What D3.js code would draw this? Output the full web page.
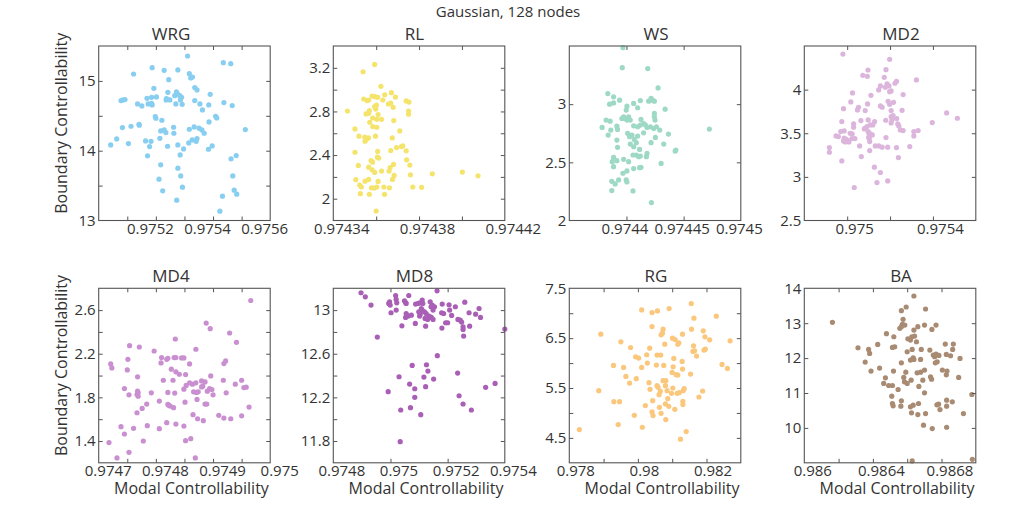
<!DOCTYPE html>
<html>
<head>
<meta charset="utf-8">
<script src="https://cdn.jsdelivr.net/npm/d3@7"></script>
<style>
  body { margin: 0; background: #fff; }
  svg text { font-family: "Open Sans", "Noto Sans", sans-serif; fill: #333; }
</style>
</head>
<body>
<svg id="chart" width="1015" height="508"></svg>
<script>
// scatter of boundary vs modal controllability, gaussian weights, 128 nodes

const panelNames = ["WRG", "RL", "WS", "MD2", "MD4", "MD8", "RG", "BA"];
const panelColors = ["#87cef0", "#f5e46c", "#9dd9c5", "#dcb5dc", "#c98fd0", "#a95fb5", "#fac77c", "#a88b72"];

// axis limits
const xDomains = [[0.975, 0.9756], [0.97434, 0.97442], [0.97435, 0.9745], [0.9748, 0.9756],
                  [0.9747, 0.975], [0.9748, 0.9754], [0.978, 0.983], [0.986, 0.987]];
const yDomains = [[13, 15.5], [1.8, 3.4], [2, 3.5], [2.5, 4.5],
                  [1.2, 2.8], [11.6, 13.2], [4, 7.5], [9, 14]];

// tick marks and tick labels
const xTickMarks = [[0.9751, 0.9752, 0.9753, 0.9754, 0.9755], [0.97436, 0.97438, 0.9744], [0.9744, 0.97445], [0.975, 0.9752, 0.9754],
                    [0.97475, 0.9748, 0.97485, 0.9749, 0.97495], [0.975, 0.9752], [0.979, 0.98, 0.981, 0.982], [0.9862, 0.9864, 0.9866, 0.9868]];
const xTickLabels = [[0.9752, 0.9754, 0.9756], [0.97434, 0.97438, 0.97442], [0.9744, 0.97445, 0.9745], [0.975, 0.9754],
                     [0.9747, 0.9748, 0.9749, 0.975], [0.9748, 0.975, 0.9752, 0.9754], [0.978, 0.98, 0.982], [0.986, 0.9864, 0.9868]];
const yTickMarks = [[13.5, 14, 14.5, 15], [2, 2.2, 2.4, 2.6, 2.8, 3, 3.2], [2.5, 3], [3, 3.5, 4],
                    [1.4, 1.6, 1.8, 2, 2.2, 2.4, 2.6], [11.8, 12, 12.2, 12.4, 12.6, 12.8, 13], [4.5, 5, 5.5, 6, 6.5, 7], [10, 11, 12, 13]];
const yTickLabels = [[13, 14, 15], [2, 2.4, 2.8, 3.2], [2, 2.5, 3], [2.5, 3, 3.5, 4],
                     [1.4, 1.8, 2.2, 2.6], [11.8, 12.2, 12.6, 13], [4.5, 5.5, 6.5, 7.5], [10, 11, 12, 13, 14]];

// data
const wrgX = [0.975311,0.975436,0.975462,0.975122,0.975187,0.975229,0.975277,0.975317,0.975322,0.975328,
  0.975245,0.975193,0.975336,0.975344,0.975242,0.975272,0.975276,0.97539,0.975078,0.975085,
  0.975092,0.975136,0.975151,0.975169,0.975185,0.975202,0.975185,0.975187,0.975173,0.975237,
  0.975236,0.975249,0.975266,0.975284,0.97529,0.975286,0.975292,0.97527,0.975336,0.975354,
  0.975363,0.975385,0.975438,0.975467,0.975198,0.9752,0.975409,0.975413,0.975386,0.975083,
  0.975113,0.975141,0.975142,0.975221,0.975262,0.975263,0.975229,0.975217,0.975235,0.975317,
  0.975334,0.975351,0.975361,0.975369,0.975513,0.975063,0.975042,0.975104,0.975164,0.975178,
  0.975183,0.975214,0.975241,0.975277,0.975297,0.975315,0.975327,0.975341,0.975344,0.975384,
  0.975397,0.975285,0.975171,0.975463,0.975481,0.975217,0.975277,0.975287,0.975293,0.975211,
  0.975224,0.975273,0.975469,0.975474,0.975483,0.975433,0.975424];
const wrgY = [15.357,15.261,15.247,15.099,15.19,15.152,15.157,15.104,15.042,15.056,
  15.018,14.894,14.904,14.87,14.837,14.842,14.813,14.808,14.718,14.727,
  14.732,14.67,14.641,14.751,14.765,14.77,14.679,14.656,14.67,14.746,
  14.727,14.727,14.789,14.789,14.765,14.727,14.665,14.67,14.718,14.67,
  14.584,14.656,14.689,14.646,14.489,14.465,14.493,14.469,14.412,14.331,
  14.35,14.379,14.365,14.436,14.336,14.25,14.298,14.283,14.26,14.307,
  14.341,14.322,14.298,14.25,14.302,14.169,14.083,14.102,14.14,14.059,
  14.135,14.178,14.064,14.083,14.026,14.112,14.155,14.135,14.174,14.021,
  14.069,13.94,13.926,13.883,13.93,13.797,13.749,13.639,13.477,13.592,
  13.425,13.291,13.639,13.434,13.377,13.348,13.134];

const rlX = [0.9743593,0.9743539,0.9743622,0.9743542,0.9743558,0.9743565,0.9743581,0.9743595,0.9743607,0.9743631,
  0.974364,0.9743671,0.9743668,0.974369,0.974374,0.9743753,0.9743751,0.9743751,0.9743466,0.9743553,
  0.9743565,0.9743593,0.9743601,0.9743598,0.9743609,0.9743603,0.9743625,0.9743657,0.9743679,0.9743682,
  0.9743501,0.974357,0.9743584,0.9743603,0.974352,0.9743547,0.9743553,0.9743564,0.9743548,0.9743597,
  0.974371,0.9743675,0.9743501,0.9743517,0.9743565,0.9743576,0.9743581,0.9743593,0.9743607,0.9743606,
  0.9743612,0.9743668,0.9743695,0.9743718,0.9743724,0.974374,0.9743742,0.9743757,0.9743625,0.974366,
  0.9743681,0.9743684,0.9743676,0.9743665,0.9743505,0.9743523,0.9743531,0.9743548,0.9743565,0.9743578,
  0.9743568,0.9743592,0.9743603,0.9743609,0.9743636,0.9743639,0.9743662,0.9743771,0.9743812,0.9743526,
  0.9743862,0.9744002,0.9744075,0.97436,0.974376,0.9743583,0.9743584,0.9743568];
const rlY = [3.231,3.164,3.03,2.914,2.899,2.905,2.941,2.935,2.929,2.905,
  2.953,2.972,2.877,2.932,2.896,2.886,2.804,2.774,2.804,2.777,
  2.783,2.844,2.859,2.822,2.771,2.728,2.728,2.868,2.838,2.716,
  2.64,2.701,2.661,2.655,2.573,2.564,2.542,2.557,2.527,2.573,
  2.621,2.557,2.426,2.305,2.289,2.35,2.265,2.241,2.433,2.381,
  2.372,2.442,2.469,2.478,2.484,2.439,2.356,2.308,2.253,2.253,
  2.314,2.213,2.177,2.286,2.174,2.125,2.107,2.161,2.177,2.1,
  2.04,2.097,2.107,2.158,2.107,2.04,2.1,2.107,2.104,2.046,
  2.228,2.244,2.21,1.887,2.219,2.335,2.74,2.807];

const wsX = [0.9743969,0.9743963,0.9744186,0.9744276,0.9743837,0.9743887,0.974394,0.9743852,0.9743887,0.9744004,
  0.9744063,0.9744098,0.9744121,0.9744194,0.9744215,0.9744227,0.9744244,0.9744338,0.9744244,0.9743998,
  0.9743822,0.9743787,0.9743857,0.9743863,0.9743916,0.9743922,0.974396,0.9743975,0.9743989,0.9744004,
  0.9744019,0.9744033,0.9744063,0.9744127,0.9744121,0.9744098,0.974415,0.9744165,0.974418,0.9744209,
  0.9744238,0.9744262,0.9744291,0.9744244,0.974425,0.9744367,0.9744725,0.974384,0.9743916,0.974401,
  0.9744027,0.9744048,0.9744068,0.9744086,0.9744098,0.974415,0.9744033,0.9744063,0.9744115,0.9744057,
  0.9744086,0.9744107,0.9744121,0.974418,0.9744174,0.9744215,0.9744253,0.9744326,0.9744432,0.9744426,
  0.9743922,0.9743887,0.9743875,0.9743887,0.9743916,0.9743975,0.9744019,0.9744004,0.9744063,0.9744115,
  0.9744127,0.9744303,0.9743969,0.9743998,0.9744004,0.9743931,0.9743872,0.9743901,0.9743872,0.9744057,
  0.9744218];
const wsY = [3.486,3.314,3.306,3.14,3.091,3.063,3.034,3.0,3.011,2.983,
  3.006,2.969,3.031,3.026,3.049,3.034,3.026,2.957,2.92,2.949,
  2.863,2.8,2.854,2.777,2.811,2.783,2.877,2.891,2.877,2.863,
  2.891,2.863,2.814,2.869,2.82,2.806,2.834,2.823,2.8,2.806,
  2.791,2.806,2.777,2.891,2.863,2.743,2.786,2.734,2.691,2.749,
  2.72,2.734,2.697,2.669,2.726,2.754,2.657,2.634,2.611,2.563,
  2.563,2.549,2.554,2.577,2.549,2.669,2.714,2.657,2.606,2.597,
  2.629,2.543,2.506,2.463,2.514,2.526,2.506,2.426,2.446,2.454,
  2.457,2.491,2.406,2.349,2.331,2.349,2.337,2.314,2.257,2.254,
  2.154];

const md2X = [0.97498,0.975198,0.975097,0.975181,0.975073,0.975094,0.975173,0.97523,0.975223,0.975323,
  0.975186,0.975195,0.975155,0.975178,0.975147,0.975198,0.975205,0.975261,0.975025,0.975111,
  0.975017,0.975053,0.975048,0.975095,0.975084,0.975191,0.975216,0.975155,0.975163,0.975198,
  0.975205,0.974983,0.975256,0.975231,0.975214,0.975205,0.975209,0.975205,0.975236,0.975241,
  0.975248,0.975261,0.97518,0.975128,0.97512,0.975064,0.97503,0.97503,0.975023,0.975098,
  0.975084,0.975092,0.97508,0.975108,0.974975,0.97497,0.974986,0.974948,0.974959,0.974986,
  0.974995,0.975002,0.974983,0.974991,0.975008,0.975022,0.975036,0.975014,0.975098,0.975102,
  0.975108,0.975117,0.9751,0.975103,0.975105,0.975058,0.975105,0.975131,0.975147,0.975163,
  0.975181,0.975189,0.97523,0.975292,0.975311,0.975311,0.975331,0.975397,0.975464,0.975514,
  0.974917,0.974917,0.974975,0.975066,0.975239,0.975127,0.975155,0.975189,0.975139,0.975033];
const md2Y = [4.408,4.347,4.225,4.229,4.164,4.153,4.141,4.095,4.073,4.111,
  4.065,4.042,4.042,4.027,3.996,3.977,3.985,3.943,3.962,3.935,
  3.859,3.798,3.767,3.836,3.76,3.866,3.855,3.813,3.798,3.832,
  3.76,3.782,3.763,3.668,3.702,3.691,3.656,3.618,3.607,3.584,
  3.538,3.531,3.649,3.634,3.595,3.645,3.607,3.569,3.492,3.653,
  3.557,3.576,3.55,3.595,3.634,3.519,3.527,3.469,3.462,3.443,
  3.431,3.416,3.412,3.401,3.401,3.439,3.439,3.5,3.519,3.5,
  3.492,3.481,3.454,3.439,3.405,3.355,3.302,3.355,3.355,3.34,
  3.45,3.34,3.336,3.347,3.519,3.469,3.531,3.622,3.733,3.672,
  3.336,3.282,3.183,3.233,3.221,3.111,3.05,2.954,2.935,2.878];

const md4X = [0.974966,0.974888,0.974895,0.974929,0.974941,0.974834,0.974754,0.974771,0.97487,0.974797,
  0.97481,0.974819,0.974821,0.974832,0.974835,0.974845,0.974849,0.974751,0.974721,0.974723,
  0.974919,0.974922,0.974859,0.974809,0.974827,0.974835,0.974841,0.97475,0.974768,0.974813,
  0.97483,0.974852,0.974896,0.974918,0.974939,0.97495,0.974954,0.974958,0.97488,0.97487,
  0.974886,0.974859,0.974864,0.974853,0.974882,0.97488,0.974894,0.974898,0.97489,0.9749,
  0.974923,0.974745,0.974768,0.974769,0.974767,0.974769,0.974792,0.974821,0.974833,0.974849,
  0.974866,0.974871,0.974874,0.974753,0.974821,0.974823,0.974825,0.974831,0.974851,0.974872,
  0.974886,0.974889,0.974784,0.974776,0.974767,0.974806,0.974963,0.974865,0.974873,0.974883,
  0.97491,0.974919,0.974931,0.97495,0.974785,0.974739,0.974745,0.974761,0.974806,0.974819,
  0.974835,0.974849,0.974778,0.974852,0.974861,0.974718,0.974753,0.974732,0.974869];
const md4Y = [2.688,2.481,2.43,2.39,2.305,2.335,2.274,2.262,2.241,2.225,
  2.165,2.149,2.158,2.165,2.165,2.162,2.162,2.149,2.107,2.07,
  2.11,2.134,2.107,2.116,2.058,2.034,2.012,2.052,1.988,1.957,
  1.957,2.009,1.997,1.957,1.921,1.957,1.89,1.893,1.951,1.933,
  1.942,1.933,1.921,1.909,1.903,1.896,1.881,1.872,1.857,1.823,
  1.842,1.881,1.857,1.842,1.826,1.811,1.842,1.845,1.839,1.875,
  1.851,1.845,1.851,1.823,1.735,1.726,1.72,1.705,1.756,1.781,
  1.738,1.738,1.738,1.699,1.659,1.766,1.711,1.641,1.604,1.586,
  1.635,1.61,1.604,1.631,1.54,1.531,1.464,1.516,1.513,1.568,
  1.555,1.537,1.4,1.403,1.421,1.385,1.296,1.245,1.245];

const md8X = [0.974897,0.974912,0.974932,0.974954,0.974997,0.974994,0.974999,0.975002,0.975018,0.97502,
  0.975022,0.97502,0.97504,0.975049,0.975053,0.975064,0.975055,0.975055,0.975053,0.975062,
  0.975073,0.975088,0.975097,0.975104,0.975111,0.975113,0.975108,0.975099,0.975104,0.975102,
  0.975111,0.975119,0.975125,0.975121,0.975135,0.97513,0.975139,0.975146,0.975142,0.975149,
  0.975154,0.975143,0.975149,0.975163,0.975181,0.975179,0.975186,0.975193,0.9752,0.975205,
  0.975207,0.975214,0.975227,0.975236,0.975244,0.975249,0.975254,0.975254,0.975256,0.97526,
  0.975275,0.975277,0.975298,0.97531,0.975315,0.9754,0.975087,0.975123,0.97518,0.975164,
  0.97503,0.975076,0.975067,0.975085,0.975085,0.97507,0.975036,0.974992,0.975117,0.975126,
  0.975131,0.975123,0.975151,0.975235,0.97524,0.975254,0.975283,0.975333,0.975366,0.975106,
  0.975034];
const md8Y = [13.159,13.122,13.046,12.753,13.076,13.061,13.046,12.976,13.134,13.098,
  13.067,13.0,12.856,13.085,13.07,13.134,13.061,12.969,12.933,12.945,
  12.954,13.055,13.061,13.067,13.092,13.061,13.015,12.985,12.963,12.945,
  13.0,12.985,12.969,12.924,12.945,12.915,13.076,13.046,13.031,13.0,
  13.031,12.933,12.915,13.177,13.055,12.976,12.969,12.884,12.884,13.049,
  13.0,12.951,13.031,12.915,12.908,12.89,12.847,12.823,12.762,13.073,
  12.976,12.853,12.963,13.015,12.933,12.826,12.878,12.853,12.835,12.582,
  12.389,12.493,12.322,12.279,12.2,12.105,12.084,12.252,12.386,12.499,
  12.441,12.298,12.368,12.423,12.215,12.139,12.084,12.292,12.328,12.041,
  11.794];

const rgX = [0.981555,0.98011,0.980412,0.980569,0.98091,0.981633,0.982287,0.978918,0.980412,0.980715,
  0.980676,0.980734,0.981008,0.981086,0.981193,0.981301,0.981565,0.981906,0.981955,0.982092,
  0.982688,0.979504,0.979787,0.980344,0.980783,0.980559,0.980666,0.981164,0.981623,0.981604,
  0.981652,0.981711,0.981926,0.981965,0.979934,0.980022,0.980256,0.980109,0.980275,0.980539,
  0.980754,0.981047,0.981027,0.980998,0.981115,0.981164,0.981291,0.981301,0.981535,0.982453,
  0.98261,0.979289,0.979582,0.97965,0.979758,0.979953,0.980324,0.980354,0.980559,0.980588,
  0.980656,0.980734,0.980813,0.980803,0.980852,0.980871,0.980979,0.981018,0.981145,0.981203,
  0.98132,0.98135,0.978859,0.979299,0.979465,0.980217,0.980432,0.980627,0.980803,0.9809,
  0.981076,0.981311,0.981311,0.981779,0.981887,0.979895,0.980412,0.980441,0.980676,0.980813,
  0.980129,0.979426,0.978293,0.981408,0.981242,0.980617];
const rgY = [7.193,7.067,7.013,7.047,7.093,6.9,6.94,6.58,6.733,6.6,
  6.567,6.68,6.5,6.473,6.407,6.58,6.68,6.647,6.527,6.467,
  6.447,6.427,6.313,6.3,6.38,6.16,6.16,6.38,6.347,6.233,
  6.247,6.14,6.26,6.28,6.127,6.1,6.167,5.913,6.0,5.96,
  5.953,6.093,5.927,5.813,5.767,5.76,6.033,5.88,5.78,5.973,
  5.893,5.953,5.913,5.733,5.6,5.687,5.607,5.473,5.547,5.513,
  5.433,5.647,5.647,5.547,5.447,5.287,5.393,5.5,5.393,5.407,
  5.447,5.487,5.447,5.227,5.227,5.147,5.247,5.113,5.18,5.133,
  5.073,5.233,5.167,5.32,5.44,4.953,5.02,4.947,4.993,4.867,
  4.713,4.767,4.667,4.627,4.473,5.367];

const baX = [0.986164,0.986639,0.986594,0.986566,0.986707,0.986576,0.986572,0.986557,0.986566,0.986586,
  0.986701,0.986744,0.986768,0.986639,0.986662,0.986627,0.986604,0.986619,0.986643,0.986654,
  0.986479,0.986522,0.986527,0.986514,0.986428,0.986313,0.986375,0.986381,0.986355,0.986389,
  0.986439,0.986473,0.986463,0.986492,0.986514,0.986547,0.9866,0.986629,0.986635,0.986639,
  0.986682,0.986678,0.986619,0.986658,0.986678,0.986701,0.986732,0.986752,0.98676,0.986768,
  0.986785,0.986775,0.986764,0.986822,0.986869,0.986865,0.986828,0.986853,0.986908,0.98652,
  0.986566,0.986592,0.986584,0.9866,0.98658,0.986623,0.986668,0.986691,0.986736,0.986742,
  0.986701,0.986805,0.986832,0.986828,0.9869,0.98651,0.986514,0.986518,0.986566,0.986563,
  0.986619,0.986635,0.986625,0.986666,0.986662,0.986707,0.986773,0.986783,0.986791,0.98683,
  0.98683,0.986863,0.986928,0.986977,0.986695,0.986746,0.98683,0.986629,0.98698];
const baY = [13.024,13.78,13.464,13.359,13.407,13.11,12.967,12.852,12.9,12.947,
  12.947,12.823,12.947,12.804,12.9,12.612,12.555,12.517,12.632,12.469,
  12.699,12.612,12.325,12.306,12.392,12.297,12.249,12.134,11.885,11.627,
  11.713,11.435,11.273,11.215,11.215,11.1,12.182,12.249,12.01,11.962,
  12.249,11.962,11.943,11.579,11.598,11.656,12.23,12.086,12.038,12.115,
  12.077,11.895,11.866,12.402,12.402,12.249,12.105,12.067,11.99,11.627,
  11.866,11.598,11.321,11.273,11.445,11.368,11.187,11.368,11.464,11.397,
  11.005,11.656,11.627,11.522,11.445,10.909,10.699,10.632,10.775,10.622,
  10.603,10.651,10.431,10.699,10.383,10.411,10.66,10.679,10.526,10.794,
  10.622,10.746,10.411,10.957,10.077,9.981,10.019,9.053,9.1];

const xSeries = [wrgX, rlX, wsX, md2X, md4X, md8X, rgX, baX];
const ySeries = [wrgY, rlY, wsY, md2Y, md4Y, md8Y, rgY, baY];

// layout
const colLeft = [98.7, 333.3, 569.3, 804.3];
const rowTop = [46, 288.3];
const boxW = 171.5, boxH = 174.5;
const titleX = [171, 414.5, 656, 901];
const xLabelShift = [-6, 8, -2, 7, 9, 8, 6, 8];
const axisColor = "#555";

const svg = d3.select("#chart");

svg.append("text")
  .attr("x", 508).attr("y", 17)
  .attr("text-anchor", "middle")
  .attr("font-size", "15px")
  .text("Gaussian, 128 nodes");

panelNames.forEach((name, i) => {
  const col = i % 4, row = Math.floor(i / 4);
  const g = svg.append("g")
    .attr("transform", `translate(${colLeft[col]},${rowTop[row]})`);

  const x = d3.scaleLinear().domain(xDomains[i]).range([0, boxW]);
  const y = d3.scaleLinear().domain(yDomains[i]).range([boxH, 0]);

  // points
  const pts = d3.zip(xSeries[i], ySeries[i]);
  g.selectAll("circle")
    .data(pts)
    .join("circle")
    .attr("cx", d => x(d[0]))
    .attr("cy", d => y(d[1]))
    .attr("r", 2.6)
    .attr("fill", panelColors[i]);

  // inward tick marks on all four sides
  const marks = [
    [d3.axisBottom(x).tickValues(xTickMarks[i]), `translate(0,${boxH})`],
    [d3.axisTop(x).tickValues(xTickMarks[i]), "translate(0,0)"],
    [d3.axisLeft(y).tickValues(yTickMarks[i]), "translate(0,0)"],
    [d3.axisRight(y).tickValues(yTickMarks[i]), `translate(${boxW},0)`]
  ];
  marks.forEach(([ax, tr]) => {
    const a = g.append("g").attr("transform", tr)
      .call(ax.tickSizeInner(-4).tickSizeOuter(0).tickFormat(""));
    a.select(".domain").remove();
    a.selectAll("line").attr("stroke", axisColor);
  });

  // frame
  g.append("rect")
    .attr("width", boxW).attr("height", boxH)
    .attr("fill", "none")
    .attr("stroke", axisColor)
    .attr("stroke-width", 1.1);

  // tick labels
  const xl = g.append("g")
    .attr("transform", `translate(0,${boxH})`)
    .call(d3.axisBottom(x).tickValues(xTickLabels[i]).tickSize(0).tickPadding(3).tickFormat(d => String(d)))
    .attr("font-size", 15);
  xl.select(".domain").remove();
  xl.selectAll("text").attr("dx", xLabelShift[i]);

  const yl = g.append("g")
    .call(d3.axisLeft(y).tickValues(yTickLabels[i]).tickSize(0).tickPadding(3).tickFormat(d => String(d)))
    .attr("font-size", 15);
  yl.select(".domain").remove();

  // panel title
  svg.append("text")
    .attr("x", titleX[col])
    .attr("y", rowTop[row] - 6)
    .attr("text-anchor", "middle")
    .attr("font-size", "17px")
    .attr("fill", "#222")
    .text(name);

  if (col === 0) {
    svg.append("text")
      .attr("transform", `translate(67,${rowTop[row] + boxH / 2 - 10}) rotate(-90)`)
      .attr("text-anchor", "middle")
      .attr("font-size", "16px")
      .text("Boundary Controllability");
  }
  if (row === 1) {
    svg.append("text")
      .attr("x", colLeft[col] + boxW / 2 + 7)
      .attr("y", 494)
      .attr("text-anchor", "middle")
      .attr("font-size", "16px")
      .text("Modal Controllability");
  }
});
</script>
</body>
</html>
